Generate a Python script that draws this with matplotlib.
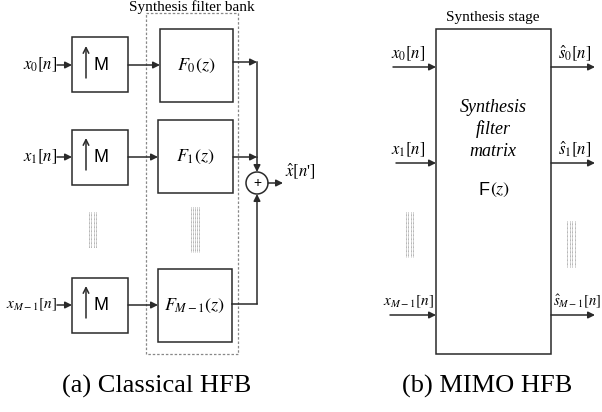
import matplotlib.pyplot as plt
from matplotlib.patches import Rectangle, Circle

plt.rcParams['mathtext.fontset'] = 'stix'
plt.rcParams['font.family'] = ['Liberation Serif', 'DejaVu Serif']

# ---- labels ----
inputs_a = [r'$x_0[n]$', r'$x_1[n]$', r'$x_{M-1}[n]$']
filters_a = [r'$F_0(z)$', r'$F_1(z)$', r'$F_{M-1}(z)$']
inputs_b = [r'$x_0[n]$', r'$x_1[n]$', r'$x_{M-1}[n]$']
outputs_b = [r'$\hat{s}_0[n]$', r'$\hat{s}_1[n]$', r'$\hat{s}_{M-1}[n]$']
matrix_words = ['Synthesis', 'filter', 'matrix']
captions = ['(a) Classical HFB', '(b) MIMO HFB']

LC = '#2a2a2a'
fig = plt.figure(figsize=(6.02, 4.12), dpi=100)
ax = fig.add_axes([0, 0, 1, 1])
ax.set_xlim(0, 602); ax.set_ylim(412, 0); ax.axis('off')


def arrow(x0, y0, x1, y1, style='-|>'):
    ax.annotate('', xy=(x1, y1), xytext=(x0, y0),
                arrowprops=dict(arrowstyle=style, mutation_scale=10, lw=1.1,
                                color=LC, shrinkA=0, shrinkB=0))


def box(x0, y0, x1, y1, **kw):
    ax.add_patch(Rectangle((x0, y0), x1 - x0, y1 - y0, fill=False,
                           ec=kw.get('ec', LC), lw=kw.get('lw', 1.1),
                           ls=kw.get('ls', '-')))


def dots(x0, x1, y0, y1, n=4):
    for i in range(n):
        x = x0 + (x1 - x0) * i / (n - 1)
        ax.plot([x, x], [y0, y1], color='#999999', lw=0.6, ls=(0, (1, 0.6)))


# ---- (a) classical HFB ----
rows_a = [65, 157, 305]
up_boxes = [(72, 37, 128, 92), (72, 130, 128, 185), (72, 278, 128, 333)]
f_boxes = [(160, 29, 233, 102), (158, 120, 233, 193), (158, 269, 232, 342)]
in_size = [12, 12, 11]
sum_x, sum_y, r = 257, 183, 11

box(146, 13, 238, 354, ec='#888888', lw=0.9, ls=(0, (2, 1.5)))
ax.text(192, 7, 'Synthesis filter bank', ha='center', va='center', fontsize=11)

for i, y in enumerate(rows_a):
    bx = up_boxes[i]
    fb = f_boxes[i]
    ax.text(bx[0] - 15, y, inputs_a[i], ha='right', va='center',
            fontsize=in_size[i])
    arrow(bx[0] - 15, y, bx[0], y)
    box(*bx)
    xm = bx[0] + 14
    arrow(xm, y + 13, xm, y - 19, style='->')
    ax.text(bx[0] + 29, y, 'M', ha='center', va='center', fontsize=13,
            family='Liberation Sans')
    arrow(bx[2], y, fb[0], y)
    box(*fb)
    ax.text((fb[0] + fb[2]) / 2, (fb[1] + fb[3]) / 2, filters_a[i],
            ha='center', va='center', fontsize=13)

# outputs to the adder
out_y = [62, 157, 304]
arrow(233, out_y[0], sum_x, out_y[0])
arrow(233, out_y[1], sum_x, out_y[1])
ax.plot([sum_x, sum_x], [out_y[0], out_y[1]], color=LC, lw=1.1)
arrow(sum_x, out_y[1], sum_x, sum_y - r)
ax.plot([232, sum_x], [out_y[2], out_y[2]], color=LC, lw=1.1)
arrow(sum_x, out_y[2], sum_x, sum_y + r)
ax.add_patch(Circle((sum_x, sum_y), r, fill=False, ec=LC, lw=1.1))
ax.text(sum_x, sum_y, '+', ha='center', va='center', fontsize=10,
        family='Liberation Sans')
arrow(sum_x + r, sum_y, 283, sum_y)
ax.text(285, sum_y - 12, r"$\hat{x}[n$'$]$", ha='left', va='center', fontsize=12)

dots(89, 96, 212, 248)
dots(191, 199, 207, 252, n=5)

# ---- (b) MIMO HFB ----
rows_b = [67, 163, 315]
out_size = [12, 12, 10.5]
out_x = [558, 558, 553]
box(436, 29, 551, 354)
ax.text(493, 17, 'Synthesis stage', ha='center', va='center', fontsize=11)
in_x0 = [393, 396, 390]
for i, y in enumerate(rows_b):
    arrow(in_x0[i], y, 436, y)
    ax.text(408, y - 13, inputs_b[i], ha='center', va='center',
            fontsize=in_size[i])
    arrow(551, y, 595, y)
    ax.text(out_x[i], y - 14, outputs_b[i], ha='left', va='center',
            fontsize=out_size[i])

for word, y in zip(matrix_words, [107, 129, 152]):
    ax.text(493, y, word, ha='center', va='center', fontsize=13, style='italic')
ax.text(490, 190, 'F', ha='right', va='center', fontsize=13,
        family='Liberation Sans')
ax.text(490, 190, r'$(z)$', ha='left', va='center', fontsize=13)

dots(406, 413, 212, 257)
dots(567, 575, 221, 267)

# ---- captions ----
ax.text(157, 386, captions[0], ha='center', va='center', fontsize=19)
ax.text(487, 386, captions[1], ha='center', va='center', fontsize=19)

fig.savefig('out.png', dpi=100)
